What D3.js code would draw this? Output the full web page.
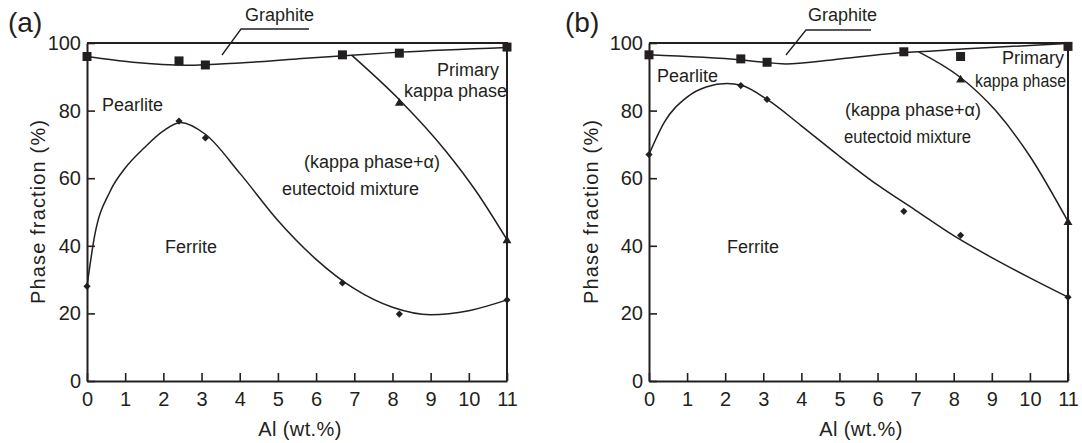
<!DOCTYPE html>
<html>
<head>
<meta charset="utf-8">
<script src="https://cdn.jsdelivr.net/npm/d3@7"></script>
<style>
  body { margin: 0; background: #fff; }
  text { font-family: "Liberation Sans", Arial, sans-serif; fill: #231f20; }
</style>
</head>
<body>
<svg id="chart" width="1082" height="443"></svg>
<script>
// ---- axis ticks ----
const xTickValues = [0, 1, 2, 3, 4, 5, 6, 7, 8, 9, 10, 11];
const yTickValues = [0, 20, 40, 60, 80, 100];

// ---- measured compositions (Al wt.%) ----
const alloyAl = [0, 2.41, 3.1, 6.69, 8.18, 11];
const kappaAl = [8.18, 11];

// ---- panel (a): measured phase boundaries (%) ----
const graphiteA = [96.0, 94.7, 93.5, 96.5, 97.0, 98.8];
const ferriteA  = [28.0, 76.9, 71.9, 29.0, 19.8, 24.0];
const kappaA    = [82.5, 41.8];

// ---- panel (a): fitted boundary curves [Al, %] ----
const graphiteFitA = [[0, 96.0], [1.2, 94.3], [2.6, 93.4], [4, 94.1], [5.5, 95.3], [6.93, 96.4], [8.2, 97.3], [11, 98.7]];
const ferriteFitA  = [[0, 28.0], [0.2, 43.0], [0.6, 56.0], [1, 63.0], [1.5, 69.0], [2, 74.0], [2.45, 76.5], [3.1, 73.0], [4, 61.5], [5, 47.5], [6, 36.0], [7, 27.3], [8, 21.8], [9, 19.6], [10, 20.8], [11, 24.0]];
const kappaFitA    = [[6.93, 96.4], [8.2, 83.0], [9.4, 68.0], [10.2, 56.0], [11, 41.8]];

// ---- panel (b): measured phase boundaries (%) ----
const graphiteB = [96.5, 95.3, 94.3, 97.4, 96.0, 99.0];
const ferriteB  = [67.0, 87.4, 83.3, 50.2, 43.1, 24.8];
const kappaB    = [89.4, 47.2];

// ---- panel (b): fitted boundary curves [Al, %] ----
const graphiteFitB = [[0, 96.5], [2.44, 95.0], [3.6, 93.8], [4.8, 95.0], [6.72, 97.2], [7.08, 97.4], [8.21, 98.2], [11, 99.9]];
const ferriteFitB  = [[0, 67.0], [0.4, 76.5], [1, 84.0], [1.5, 87.0], [2.05, 88.0], [2.42, 87.5], [3.1, 83.3], [4, 75.5], [5, 66.5], [6, 58.0], [7, 50.5], [8, 43.0], [9, 36.5], [10, 30.5], [11, 24.8]];
const kappaFitB    = [[7.08, 97.4], [8.18, 89.8], [9.1, 80.0], [10, 66.5], [11, 47.2]];

// ---- region labels ----
const regionNames = ["Graphite", "Pearlite", "Primary", "kappa phase", "(kappa phase+α)", "eutectoid mixture", "Ferrite"];

const ink = "#231f20";
const svg = d3.select("#chart");

const panels = [
  {
    tag: "(a)", left: 87, right: 507,
    graphite: graphiteA, ferrite: ferriteA, kappa: kappaA,
    graphiteFit: graphiteFitA, ferriteFit: ferriteFitA, kappaFit: kappaFitA,
    tagPos: [8, 32], yTitleX: 45, xTitleX: 300,
    leader: [[309, 29], [241, 29], [222, 55]],
    labels: [
      { x: 245, y: 21 }, { x: 102, y: 111 }, { x: 437, y: 76 }, { x: 404, y: 97 },
      { x: 304, y: 168 }, { x: 282, y: 195 }, { x: 165, y: 253 }
    ]
  },
  {
    tag: "(b)", left: 649, right: 1068,
    graphite: graphiteB, ferrite: ferriteB, kappa: kappaB,
    graphiteFit: graphiteFitB, ferriteFit: ferriteFitB, kappaFit: kappaFitB,
    tagPos: [565, 32], yTitleX: 598, xTitleX: 861,
    leader: [[871, 30], [806, 30], [786, 55]],
    labels: [
      { x: 808, y: 21 }, { x: 657, y: 82 }, { x: 1002, y: 64 }, { x: 975, y: 87, len: 91 },
      { x: 845, y: 116 }, { x: 844, y: 143, len: 127 }, { x: 727, y: 253 }
    ]
  }
];

function drawPanel(p) {
  const x = d3.scaleLinear().domain([0, 11]).range([p.left, p.right]);
  const y = d3.scaleLinear().domain([0, 100]).range([381, 43]);
  const g = svg.append("g");

  // axes with inward ticks
  const gx = g.append("g")
    .attr("transform", `translate(0,${y(0)})`)
    .call(d3.axisBottom(x).tickValues(xTickValues).tickSizeInner(-8).tickSizeOuter(0).tickPadding(11).tickFormat(d3.format("d")));
  const gy = g.append("g")
    .attr("transform", `translate(${x(0)},0)`)
    .call(d3.axisLeft(y).tickValues(yTickValues).tickSizeInner(-8).tickSizeOuter(0).tickPadding(6).tickFormat(d3.format("d")));
  [gx, gy].forEach(a => {
    a.attr("font-family", null).attr("font-size", null);
    a.select(".domain").attr("stroke", ink).attr("stroke-width", 2);
    a.selectAll(".tick line").attr("stroke", ink).attr("stroke-width", 1.6);
    a.selectAll(".tick text").style("font-size", "20px").attr("fill", ink);
  });

  // top and right frame
  g.append("path")
    .attr("d", `M${x(0)},${y(100)}H${x(11)}V${y(0)}`)
    .attr("fill", "none").attr("stroke", ink).attr("stroke-width", 2);

  // boundary curves
  const line = d3.line().x(d => x(d[0])).y(d => y(d[1])).curve(d3.curveMonotoneX);
  [p.graphiteFit, p.ferriteFit, p.kappaFit].forEach(c => {
    g.append("path").attr("d", line(c))
      .attr("fill", "none").attr("stroke", ink).attr("stroke-width", 1.5);
  });

  // markers
  const sq = d3.symbol(d3.symbolSquare, 81);
  const dia = d3.symbol(d3.symbolSquare, 26);
  const tri = d3.symbol(d3.symbolTriangle, 34);
  g.selectAll(".sq").data(alloyAl.map((a, i) => [a, p.graphite[i]])).join("path")
    .attr("d", sq).attr("fill", ink)
    .attr("transform", d => `translate(${x(d[0])},${y(d[1])})`);
  g.selectAll(".dia").data(alloyAl.map((a, i) => [a, p.ferrite[i]])).join("path")
    .attr("d", dia).attr("fill", ink)
    .attr("transform", d => `translate(${x(d[0])},${y(d[1])}) rotate(45)`);
  g.selectAll(".tri").data(kappaAl.map((a, i) => [a, p.kappa[i]])).join("path")
    .attr("d", tri).attr("fill", ink)
    .attr("transform", d => `translate(${x(d[0])},${y(d[1]) + 1})`);

  // axis titles
  g.append("text").attr("x", p.xTitleX).attr("y", 436).attr("text-anchor", "middle")
    .style("font-size", "20px").style("letter-spacing", "0.4px").text("Al (wt.%)");
  g.append("text").attr("transform", `translate(${p.yTitleX},${(y(0) + y(100)) / 2}) rotate(-90)`)
    .attr("text-anchor", "middle").style("font-size", "20px")
    .attr("textLength", 184).attr("lengthAdjust", "spacing").text("Phase fraction (%)");

  // panel tag
  g.append("text").attr("x", p.tagPos[0]).attr("y", p.tagPos[1]).style("font-size", "28px").text(p.tag);

  // region labels
  regionNames.forEach((t, i) => {
    const l = p.labels[i];
    const el = g.append("text").attr("x", l.x).attr("y", l.y).style("font-size", "18px").text(t);
    if (l.len) el.attr("textLength", l.len).attr("lengthAdjust", "spacingAndGlyphs");
  });

  // leader line for graphite
  g.append("path").attr("d", d3.line()(p.leader))
    .attr("fill", "none").attr("stroke", ink).attr("stroke-width", 1.3);
}

panels.forEach(drawPanel);
</script>
</body>
</html>
